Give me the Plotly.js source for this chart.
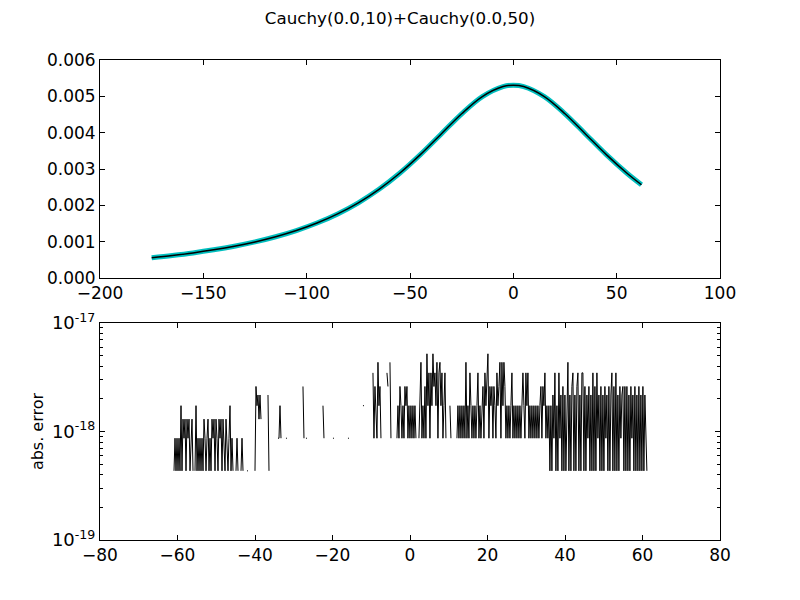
<!DOCTYPE html>
<html>
<head>
<meta charset="utf-8">
<script src="https://cdn.plot.ly/plotly-3.0.1.min.js"></script>
<style>html,body{margin:0;padding:0;background:#fff;}#chart{width:800px;height:600px;}</style>
</head>
<body>
<div id="chart"></div>
<script>
// Top panel: density curve
const pdfX = [-175, -165, -155, -145, -135, -125, -115, -105, -95, -85, -75, -65, -55, -45, -35, -25, -15, -5, 0, 5, 15, 25, 35, 45, 55, 62];
const pdfY = [0.000558, 0.000620, 0.000691, 0.000776, 0.000875, 0.000993, 0.001135, 0.001306, 0.001513, 0.001764,
              0.002070, 0.002441, 0.002883, 0.003395, 0.003958, 0.004520, 0.004993, 0.005269, 0.005305, 0.005269,
              0.004993, 0.004520, 0.003958, 0.003395, 0.002883, 0.002566];

// Bottom panel: log tick values and labels
const errTickVals = [1e-19, 1e-18, 1e-17];
const errTickText = ['10<sup>-19</sup>', '10<sup>-18</sup>', '10<sup>-17</sup>'];

// Bottom panel: absolute error, sampled at a regular step (null = zero error, not drawn on log axis)
const errX0 = -60.9;
const errDx = 0.258;
const absError = [
4.34e-19,8.67e-19,4.34e-19,8.67e-19,4.34e-19,8.67e-19,4.34e-19,1.73e-18,4.34e-19,1.30e-18,
8.67e-19,1.30e-18,4.34e-19,1.30e-18,8.67e-19,1.30e-18,4.34e-19,8.67e-19,1.30e-18,4.34e-19,
null,4.34e-19,1.73e-18,4.34e-19,8.67e-19,4.34e-19,8.67e-19,4.34e-19,8.67e-19,4.34e-19,
1.30e-18,8.67e-19,4.34e-19,8.67e-19,1.30e-18,4.34e-19,8.67e-19,4.34e-19,1.30e-18,8.67e-19,
1.30e-18,4.34e-19,1.30e-18,8.67e-19,4.34e-19,1.30e-18,8.67e-19,1.30e-18,4.34e-19,1.30e-18,
8.67e-19,4.34e-19,1.30e-18,8.67e-19,4.34e-19,8.67e-19,1.73e-18,4.34e-19,8.67e-19,4.34e-19,
null,null,4.34e-19,8.67e-19,4.34e-19,null,null,4.34e-19,8.67e-19,4.34e-19,
null,null,null,4.34e-19,4.34e-19,null,null,null,null,null,
null,4.34e-19,2.60e-18,1.73e-18,2.17e-18,1.30e-18,2.17e-18,1.30e-18,null,null,
null,null,null,null,2.17e-18,4.34e-19,null,null,null,null,
null,null,null,null,8.67e-19,8.67e-19,1.73e-18,8.67e-19,null,null,
null,null,8.67e-19,8.67e-19,null,null,null,null,null,null,
null,null,null,null,null,null,null,null,null,2.60e-18,
8.67e-19,null,8.67e-19,8.67e-19,null,null,null,null,null,null,
null,null,null,null,null,null,null,null,null,1.73e-18,
8.67e-19,null,null,null,null,null,null,null,null,8.67e-19,
8.67e-19,null,null,null,null,null,null,null,null,null,
null,null,null,null,8.67e-19,8.67e-19,null,null,null,null,
null,null,null,null,null,null,null,null,null,1.73e-18,
1.73e-18,null,null,null,null,null,null,null,null,3.47e-18,
8.67e-19,2.60e-18,1.73e-18,8.67e-19,4.34e-18,1.73e-18,2.60e-18,8.67e-19,null,null,
null,null,null,3.47e-18,2.60e-18,null,4.34e-18,8.67e-19,null,null,
null,null,null,8.67e-19,1.73e-18,8.67e-19,2.60e-18,1.73e-18,8.67e-19,1.73e-18,
8.67e-19,2.60e-18,1.73e-18,2.60e-18,8.67e-19,1.73e-18,8.67e-19,1.73e-18,8.67e-19,1.73e-18,
8.67e-19,1.73e-18,8.67e-19,null,null,8.67e-19,1.73e-18,4.34e-18,8.67e-19,1.73e-18,
8.67e-19,2.60e-18,8.67e-19,5.20e-18,1.73e-18,3.47e-18,8.67e-19,3.47e-18,1.73e-18,5.20e-18,
2.60e-18,3.47e-18,1.73e-18,4.34e-18,8.67e-19,3.47e-18,4.34e-18,1.73e-18,3.47e-18,8.67e-19,
1.73e-18,3.47e-18,8.67e-19,null,null,null,1.73e-18,8.67e-19,null,null,
null,null,null,8.67e-19,1.73e-18,8.67e-19,1.73e-18,8.67e-19,1.73e-18,8.67e-19,
1.73e-18,8.67e-19,4.34e-18,8.67e-19,1.73e-18,8.67e-19,3.47e-18,1.73e-18,8.67e-19,1.73e-18,
8.67e-19,1.73e-18,8.67e-19,1.73e-18,3.47e-18,8.67e-19,1.73e-18,8.67e-19,1.73e-18,2.60e-18,
8.67e-19,3.47e-18,1.73e-18,2.60e-18,5.20e-18,8.67e-19,2.60e-18,1.73e-18,2.60e-18,8.67e-19,
2.60e-18,1.73e-18,8.67e-19,3.47e-18,1.73e-18,2.60e-18,4.34e-18,8.67e-19,4.34e-18,1.73e-18,
4.34e-18,2.60e-18,8.67e-19,1.73e-18,8.67e-19,1.73e-18,8.67e-19,1.73e-18,3.47e-18,8.67e-19,
1.73e-18,8.67e-19,1.73e-18,8.67e-19,1.73e-18,8.67e-19,1.73e-18,8.67e-19,1.73e-18,3.47e-18,
1.73e-18,8.67e-19,3.47e-18,1.73e-18,3.47e-18,8.67e-19,1.73e-18,8.67e-19,1.73e-18,8.67e-19,
1.73e-18,8.67e-19,1.73e-18,8.67e-19,1.73e-18,8.67e-19,1.73e-18,2.60e-18,8.67e-19,2.60e-18,
1.73e-18,3.47e-18,8.67e-19,1.73e-18,8.67e-19,1.73e-18,4.34e-19,1.73e-18,4.34e-19,2.17e-18,
8.67e-19,3.47e-18,4.34e-19,1.73e-18,4.34e-19,3.47e-18,8.67e-19,2.17e-18,4.34e-19,2.60e-18,
4.34e-19,2.17e-18,4.34e-19,2.60e-18,4.34e-18,4.34e-19,2.17e-18,4.34e-19,2.60e-18,3.47e-18,
4.34e-19,2.17e-18,4.34e-19,2.60e-18,3.47e-18,4.34e-19,2.17e-18,4.34e-19,3.47e-18,3.47e-18,
4.34e-19,2.60e-18,4.34e-19,2.17e-18,8.67e-19,2.60e-18,4.34e-19,2.17e-18,4.34e-19,3.47e-18,
4.34e-19,2.60e-18,4.34e-19,3.47e-18,8.67e-19,2.17e-18,4.34e-19,2.60e-18,4.34e-19,2.17e-18,
4.34e-19,2.60e-18,8.67e-19,2.17e-18,4.34e-19,2.60e-18,4.34e-19,2.17e-18,3.47e-18,4.34e-19,
2.60e-18,4.34e-19,3.47e-18,4.34e-19,2.17e-18,4.34e-19,2.60e-18,8.67e-19,2.17e-18,2.60e-18,
4.34e-19,2.60e-18,4.34e-19,2.60e-18,4.34e-19,2.17e-18,4.34e-19,2.60e-18,8.67e-19,2.17e-18,
4.34e-19,2.60e-18,4.34e-19,2.17e-18,4.34e-19,2.60e-18,4.34e-19,2.17e-18,4.34e-19,2.60e-18,
4.34e-19,2.17e-18,8.67e-19,4.34e-19
];

const FONT = 'DejaVu Sans, Bitstream Vera Sans, sans-serif';
const axisCommon = {
  showline: true, linecolor: '#000', linewidth: 1, mirror: 'ticks',
  ticks: 'inside', ticklen: 5, tickwidth: 1, tickcolor: '#000',
  showgrid: false, zeroline: false,
  tickfont: {family: FONT, size: 17, color: '#000'}
};

const traces = [
  {x: pdfX, y: pdfY, type: 'scatter', mode: 'lines', xaxis: 'x', yaxis: 'y',
   line: {color: '#00BFBF', width: 5, shape: 'spline'}, hoverinfo: 'skip'},
  {x: pdfX, y: pdfY, type: 'scatter', mode: 'lines', xaxis: 'x', yaxis: 'y',
   line: {color: '#000', width: 1.5, shape: 'spline'}},
  {x0: errX0, dx: errDx, y: absError, type: 'scatter', mode: 'lines', xaxis: 'x2', yaxis: 'y2',
   line: {color: '#000', width: 1}, connectgaps: false}
];

const layout = {
  width: 800, height: 600,
  paper_bgcolor: '#fff', plot_bgcolor: '#fff',
  showlegend: false,
  margin: {l: 100, r: 80, t: 60, b: 60},
  title: {text: 'Cauchy(0.0,10)+Cauchy(0.0,50)', font: {family: FONT, size: 16.7, color: '#000'},
          x: 0.5, xref: 'container', xanchor: 'center', y: 0.97, yref: 'container', yanchor: 'middle'},
  xaxis: Object.assign({}, axisCommon, {domain: [0, 1], anchor: 'y', range: [-200, 100], dtick: 50, tick0: 0}),
  yaxis: Object.assign({}, axisCommon, {domain: [0.5458, 1], anchor: 'x', range: [0, 0.006], dtick: 0.001, tickformat: '.3f'}),
  xaxis2: Object.assign({}, axisCommon, {domain: [0, 1], anchor: 'y2', range: [-80, 80], dtick: 20, tick0: 0}),
  yaxis2: Object.assign({}, axisCommon, {domain: [0, 0.4521], anchor: 'x2', type: 'log', range: [-19, -17],
    tickmode: 'array', tickvals: errTickVals, ticktext: errTickText,
    tickfont: {family: FONT, size: 18, color: '#000'},
    minor: {ticks: 'inside', ticklen: 3, tickcolor: '#000', showgrid: false, dtick: 'D1'},
    title: {text: 'abs. error', font: {family: FONT, size: 16, color: '#000'}, standoff: 4}})
};

Plotly.newPlot('chart', traces, layout, {staticPlot: true});
</script>
</body>
</html>
